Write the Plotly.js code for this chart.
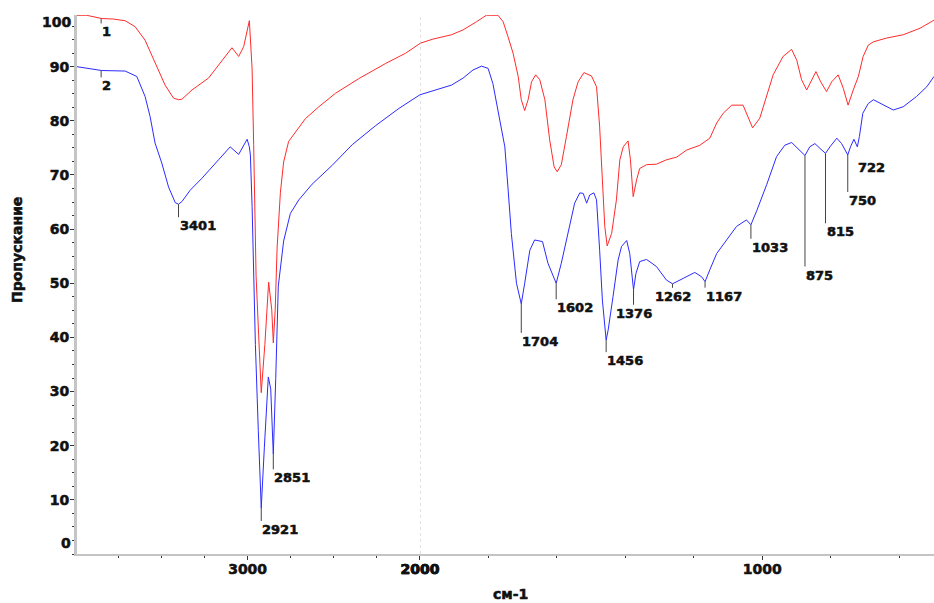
<!DOCTYPE html>
<html>
<head>
<meta charset="utf-8">
<script src="https://cdn.plot.ly/plotly-3.0.1.min.js"></script>
<style>
html,body{margin:0;padding:0;background:#fff;}
#chart{width:934px;height:603px;}
#chart svg text{stroke:#111;stroke-width:0.55px;}
</style>
</head>
<body>
<div id="chart"></div>
<script>
// ---- data (wavenumber, cm-1  /  transmittance, %) ----
var wnRed = [3990,3934,3847,3780,3711,3653,3595,3537,3479,3430,3400,3381,3323,3227,3149,3091,3052,3023,2990,2974,2965,2959,2951,2938,2929,2921,2900,2878,2860,2851,2840,2829,2810,2791,2762,2723,2665,2587,2490,2355,2199,2083,2001,1962,1908,1874,1835,1806,1772,1757,1743,1728,1713,1704,1694,1684,1674,1662,1650,1635,1621,1608,1599,1587,1572,1553,1538,1521,1499,1484,1475,1467,1460,1453,1440,1426,1416,1406,1392,1385,1377,1367,1358,1338,1309,1280,1250,1221,1182,1153,1133,1114,1089,1056,1041,1028,1007,987,968,939,914,899,885,870,856,843,829,812,797,778,763,749,734,719,705,690,675,636,588,539,498];
var tRed = [99.5,99.5,98.9,98.8,98.5,97.4,94.9,90.6,86.6,84.2,83.9,84.0,85.7,87.9,91.2,93.5,91.9,93.7,98.5,89.6,75.6,64.2,51.4,41.9,35.5,29.8,38.7,50.2,45.1,39.0,45.1,56.5,66.7,72.4,76.2,77.8,80.4,82.6,85.1,87.8,90.6,92.5,94.3,95.1,95.9,96.8,98.3,99.5,99.5,98.3,95.6,92.5,88.2,83.9,81.9,83.9,87.2,88.5,87.6,83.9,76.5,71.5,70.6,71.9,77.1,83.9,87.2,88.9,88.3,86.3,78.9,67.8,60.5,56.9,59.2,65.4,72.8,75.2,76.3,72.8,66.0,69.1,71.2,71.9,72.0,72.8,73.3,74.6,75.5,76.8,79.6,81.4,82.9,82.9,80.8,78.7,80.5,84.5,88.5,91.9,93.2,91.2,87.6,85.7,87.6,89.1,87.2,85.4,87.2,88.5,86.0,82.9,85.7,88.2,91.9,94.0,94.6,95.3,95.9,97.1,98.6];

var wnBlue = [3990,3847,3711,3643,3595,3566,3537,3498,3459,3420,3401,3381,3333,3265,3169,3101,3052,3003,2990,2984,2974,2965,2955,2938,2929,2921,2903,2880,2866,2851,2837,2822,2791,2752,2703,2626,2509,2393,2258,2122,2001,1952,1908,1874,1845,1820,1801,1787,1767,1752,1743,1733,1718,1704,1694,1679,1665,1642,1626,1611,1602,1587,1567,1548,1533,1523,1513,1504,1492,1484,1475,1467,1456,1450,1436,1421,1411,1396,1387,1376,1369,1358,1338,1309,1280,1262,1231,1197,1177,1167,1153,1133,1104,1075,1046,1033,1016,987,958,934,914,895,875,861,846,831,815,802,782,768,750,742,732,722,716,706,690,675,646,617,588,549,519,498];
var tBlue = [90.0,89.3,89.2,88.2,84.5,80.8,75.9,72.2,67.8,64.9,64.6,65.1,67.2,69.4,72.8,75.2,73.8,76.6,75.2,73.7,64.2,51.4,38.7,22.8,13.9,8.5,19.6,32.7,30.5,18.4,32.4,49.5,57.8,62.9,65.4,68.3,71.8,75.6,79.1,82.3,84.8,85.8,86.6,87.9,89.4,90.1,89.7,86.9,80.2,75.2,67.8,59.2,50.0,46.2,50.0,56.1,58.0,57.7,53.7,51.2,50.0,53.7,59.2,64.8,66.7,66.6,64.8,66.3,66.7,65.4,56.1,46.9,39.5,41.4,47.5,54.3,56.8,57.9,55.5,48.8,51.8,54.0,54.4,53.1,50.6,49.9,50.9,52.0,51.2,50.3,52.5,55.5,58.0,60.5,61.7,60.8,63.4,68.2,73.4,75.5,76.0,74.9,73.6,75.2,75.8,74.9,74.0,75.2,76.8,75.8,73.7,75.2,76.6,75.2,77.1,81.4,83.2,83.9,82.9,82.0,82.6,84.5,86.3,88.2];

var peakLabels = ['3401','2921','2851','1704','1602','1456','1376','1262','1167','1033','875','815','750','722'];
var peakWn = [3401,2921,2851,1704,1602,1456,1376,1262,1167,1033,875,815,750,722];
var curveNames = ['1','2'];
var yTickVals = [10,20,30,40,50,60,70,80,90];
var xTickUpper = [3000,2000];
var xTickLower = [2000,1000];

// ---- layout settings (pixel offsets for the labels) ----
var peakLineLen = [13,13,15,29,16,12,15,4,6,14,111,70,37,12];
var peakAnchor = ['left','left','left','left','left','left','center','center','left','left','left','left','left','left'];

function interp(wn, xs, ys){
  for (var i=0;i<xs.length-1;i++){
    var a=xs[i], b=xs[i+1];
    if ((wn<=a && wn>=b)){ var f=(a===b)?0:(a-wn)/(a-b); return ys[i]+f*(ys[i+1]-ys[i]); }
  }
  return ys[ys.length-1];
}

var FONT = 'DejaVu Sans, Arial, sans-serif';
var RED = '#ff2b2b', BLUE = '#2b2bff';
var traces = [];
['x','x2'].forEach(function(xa){
  traces.push({x:wnRed, y:tRed, xaxis:xa, yaxis:'y', mode:'lines', line:{color:RED,width:1}, hoverinfo:'skip', showlegend:false});
  traces.push({x:wnBlue, y:tBlue, xaxis:xa, yaxis:'y', mode:'lines', line:{color:BLUE,width:1}, hoverinfo:'skip', showlegend:false});
});

var annotations = [];
peakWn.forEach(function(w,i){
  annotations.push({
    x:w, y:interp(w,wnBlue,tBlue), xref:(w>2000?'x':'x2'), yref:'y',
    text:'<b>'+peakLabels[i]+'</b>', showarrow:true, arrowhead:0, arrowwidth:1, arrowcolor:'#444',
    ax:0, ay:peakLineLen[i], xanchor:peakAnchor[i], yanchor:'top', borderpad:0,
    font:{family:FONT,size:13,color:'#111'}
  });
});
// curve numbers
annotations.push({x:3850, y:interp(3850,wnRed,tRed), xref:'x', yref:'y', text:'<b>'+curveNames[0]+'</b>', showarrow:true, arrowhead:0, arrowwidth:1, arrowcolor:'#444', ax:0, ay:5, xanchor:'left', yanchor:'top', borderpad:0, font:{family:FONT,size:13,color:'#111'}});
annotations.push({x:3850, y:interp(3850,wnBlue,tBlue), xref:'x', yref:'y', text:'<b>'+curveNames[1]+'</b>', showarrow:true, arrowhead:0, arrowwidth:1, arrowcolor:'#444', ax:0, ay:7, xanchor:'left', yanchor:'top', borderpad:0, font:{family:FONT,size:13,color:'#111'}});
// end labels of y axis (drawn inside range like the original)
annotations.push({x:0, xref:'paper', y:2.0, yref:'y', text:'<b>0</b>', showarrow:false, xanchor:'right', xshift:-4, font:{family:FONT,size:14,color:'#111'}});
annotations.push({x:0, xref:'paper', y:98.2, yref:'y', text:'<b>100</b>', showarrow:false, xanchor:'right', xshift:-4, font:{family:FONT,size:14,color:'#111'}});
// axis titles
annotations.push({x:0.506, xref:'paper', y:-0.075, yref:'paper', text:'<b>см-1</b>', showarrow:false, xanchor:'center', yanchor:'middle', font:{family:FONT,size:14,color:'#111'}});
annotations.push({x:-0.070, xref:'paper', y:0.564, yref:'paper', text:'<b>Пропускание</b>', textangle:-90, showarrow:false, xanchor:'center', yanchor:'middle', font:{family:FONT,size:14,color:'#111'}});

var axisCommon = {
  showgrid:false, zeroline:false, showline:true, linecolor:'#c4c4c4', linewidth:2,
  ticks:'outside', ticklen:4, tickcolor:'#333', tickwidth:1,
  tickfont:{family:FONT,size:14,color:'#111'}, tickmode:'array'
};
var layout = {
  width:934, height:603,
  margin:{l:77, r:0, t:15, b:49},
  paper_bgcolor:'#fff', plot_bgcolor:'#fff',
  showlegend:false,
  xaxis: Object.assign({}, axisCommon, {
    domain:[0,0.4002], range:[3990,2000], anchor:'y', ticklabelstandoff:-3,
    tickvals:xTickUpper, ticktext:xTickUpper.map(function(v){return '<b>'+v+'</b>';}),
    minor:{tick0:0, dtick:250, ticks:'outside', ticklen:2, tickcolor:'#333'}
  }),
  xaxis2: Object.assign({}, axisCommon, {
    domain:[0.4002,1], range:[2000,498], anchor:'y', ticklabelstandoff:-3,
    tickvals:xTickLower, ticktext:xTickLower.map(function(v){return '<b>'+v+'</b>';}),
    minor:{tick0:0, dtick:200, ticks:'outside', ticklen:2, tickcolor:'#333'}
  }),
  yaxis: Object.assign({}, axisCommon, {
    domain:[0,1], range:[0,99.55], anchor:'x', linewidth:3, ticklen:4, ticklabelstandoff:-2,
    tickvals:yTickVals, ticktext:yTickVals.map(function(v){return '<b>'+v+'</b>';}),
    minor:{tick0:0, dtick:2.5, ticks:'outside', ticklen:2, tickcolor:'#333'}
  }),
  shapes:[{type:'line', xref:'x2', yref:'paper', x0:2000, x1:2000, y0:0, y1:1, line:{color:'#bdbdbd', width:1, dash:'dot'}}],
  annotations:annotations
};
Plotly.newPlot('chart', traces, layout, {staticPlot:true, displayModeBar:false});
</script>
</body>
</html>
